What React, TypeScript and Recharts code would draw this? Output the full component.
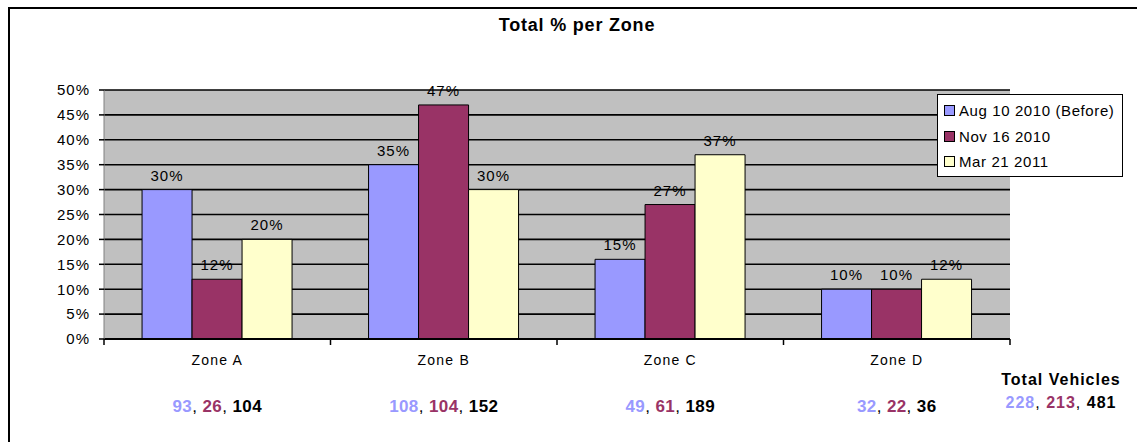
import { BarChart, Bar, XAxis, YAxis, CartesianGrid, LabelList } from "recharts";

const zones = ["Zone A", "Zone B", "Zone C", "Zone D"];
const aug2010 = [30, 35, 16, 10];
const nov2010 = [12, 47, 27, 10];
const mar2011 = [20, 30, 37, 12];
const augLabels = ["30%", "35%", "15%", "10%"];
const novLabels = ["12%", "47%", "27%", "10%"];
const marLabels = ["20%", "30%", "37%", "12%"];
const augCounts = [93, 108, 49, 32];
const novCounts = [26, 104, 61, 22];
const marCounts = [104, 152, 189, 36];
const totals = [228, 213, 481];
const yTicks = [0, 5, 10, 15, 20, 25, 30, 35, 40, 45, 50];

const seriesNames = ["Aug 10 2010 (Before)", "Nov 16 2010", "Mar 21 2011"];
const colors = ["#9999FF", "#993366", "#FFFFCC"];
const countColors = ["#9999FF", "#993366", "#000000"];

const data = zones.map((z, i) => ({
  zone: z,
  aug: aug2010[i],
  nov: nov2010[i],
  mar: mar2011[i],
  augLabel: augLabels[i],
  novLabel: novLabels[i],
  marLabel: marLabels[i],
}));

const FONT = "'Liberation Sans', Arial, sans-serif";
const PLOT_LEFT = 104;
const PLOT_RIGHT = 1010;
const HALF_BAND = (PLOT_RIGHT - PLOT_LEFT) / zones.length / 2;

function ZoneTick(props: any) {
  const { x, y, payload, index } = props;
  const i = index as number;
  const counts = [augCounts[i], novCounts[i], marCounts[i]];
  return (
    <g>
      <line x1={x - HALF_BAND} y1={y - 8} x2={x - HALF_BAND} y2={y - 2} stroke="#000" strokeWidth={1.5} />
      {i === zones.length - 1 && (
        <line x1={x + HALF_BAND} y1={y - 8} x2={x + HALF_BAND} y2={y - 2} stroke="#000" strokeWidth={1.5} />
      )}
      <text x={x} y={y + 18} textAnchor="middle" fontSize={14} letterSpacing={1.2} fontFamily={FONT} fill="#000">
        {payload.value}
      </text>
      <text x={x} y={y + 65} textAnchor="middle" fontSize={17} letterSpacing={0.4} fontWeight="bold" fontFamily={FONT}>
        {counts.map((c, k) => (
          <tspan key={k} fill={countColors[k]}>
            {c}
            {k < counts.length - 1 ? <tspan fill="#000" fontWeight="normal">{", "}</tspan> : null}
          </tspan>
        ))}
      </text>
    </g>
  );
}

function LegendBox() {
  return (
    <div
      style={{
        position: "absolute",
        left: 937,
        top: 94,
        border: "1px solid #000",
        background: "#fff",
        width: 186,
        height: 83,
        boxSizing: "border-box",
        padding: "3px 0 0 6px",
        fontFamily: FONT,
        fontSize: 15,
        letterSpacing: 0.6,
      }}
    >
      {seriesNames.map((n, i) => (
        <div key={n} style={{ display: "flex", alignItems: "center", height: 25.5 }}>
          <span
            style={{
              display: "inline-block",
              width: 9,
              height: 9,
              background: colors[i],
              border: "1px solid #000",
              marginRight: 4,
            }}
          />
          <span>{n}</span>
        </div>
      ))}
    </div>
  );
}

export default function App() {
  return (
    <div
      style={{
        position: "fixed",
        left: 0,
        top: 0,
        width: 1137,
        height: 442,
        background: "#fff",
        overflow: "hidden",
      }}
    >
      <div
        style={{
          position: "absolute",
          left: 8,
          top: 7,
          width: 1160,
          height: 460,
          border: "2px solid #000",
          boxSizing: "border-box",
        }}
      />
      <div
        style={{
          position: "absolute",
          left: 0,
          top: 15,
          width: 1154,
          textAlign: "center",
          fontFamily: FONT,
          fontWeight: "bold",
          fontSize: 18,
          letterSpacing: 0.8,
        }}
      >
        Total % per Zone
      </div>
      <BarChart
        width={1137}
        height={442}
        data={data}
        margin={{ top: 90, right: 1137 - PLOT_RIGHT, left: 44, bottom: 4 }}
        barCategoryGap="16.8%"
        barGap={0}
        style={{ position: "absolute", left: 0, top: 0 }}
      >
        <CartesianGrid vertical={false} stroke="#000" strokeWidth={1.6} fill="#C0C0C0" fillOpacity={1} />
        <XAxis
          dataKey="zone"
          height={99}
          tick={<ZoneTick />}
          tickLine={false}
          axisLine={{ stroke: "#000", strokeWidth: 2 }}
          interval={0}
        />
        <YAxis
          width={60}
          domain={[0, 50]}
          ticks={yTicks}
          interval={0}
          tickFormatter={(v: number) => `${v}%`}
          tick={{ fontSize: 15, fill: "#000", fontFamily: FONT, letterSpacing: 1 }}
          tickLine={{ stroke: "#000", strokeWidth: 1.5 }}
          tickSize={5}
          tickMargin={9}
          axisLine={{ stroke: "#808080" }}
        />
        <YAxis
          yAxisId="right"
          orientation="right"
          width={0}
          domain={[0, 50]}
          tick={false}
          tickLine={false}
          axisLine={{ stroke: "#808080", strokeWidth: 1.5 }}
        />
        <Bar dataKey="aug" name={seriesNames[0]} fill={colors[0]} stroke="#000" strokeWidth={1} isAnimationActive={false}>
          <LabelList dataKey="augLabel" position="top" offset={9} fontSize={15} letterSpacing={1} fill="#000" fontFamily={FONT} />
        </Bar>
        <Bar dataKey="nov" name={seriesNames[1]} fill={colors[1]} stroke="#000" strokeWidth={1} isAnimationActive={false}>
          <LabelList dataKey="novLabel" position="top" offset={9} fontSize={15} letterSpacing={1} fill="#000" fontFamily={FONT} />
        </Bar>
        <Bar dataKey="mar" name={seriesNames[2]} fill={colors[2]} stroke="#000" strokeWidth={1} isAnimationActive={false}>
          <LabelList dataKey="marLabel" position="top" offset={9} fontSize={15} letterSpacing={1} fill="#000" fontFamily={FONT} />
        </Bar>
      </BarChart>
      <LegendBox />
      <div
        style={{
          position: "absolute",
          left: 990,
          top: 368,
          width: 142,
          textAlign: "center",
          fontFamily: FONT,
          fontWeight: "bold",
          fontSize: 16,
          letterSpacing: 1,
          lineHeight: "23px",
        }}
      >
        <div>Total Vehicles</div>
        <div>
          {totals.map((t, k) => (
            <span key={k} style={{ color: countColors[k] }}>
              {t}
              {k < totals.length - 1 ? <span style={{ color: "#000", fontWeight: "normal" }}>, </span> : null}
            </span>
          ))}
        </div>
      </div>
    </div>
  );
}
